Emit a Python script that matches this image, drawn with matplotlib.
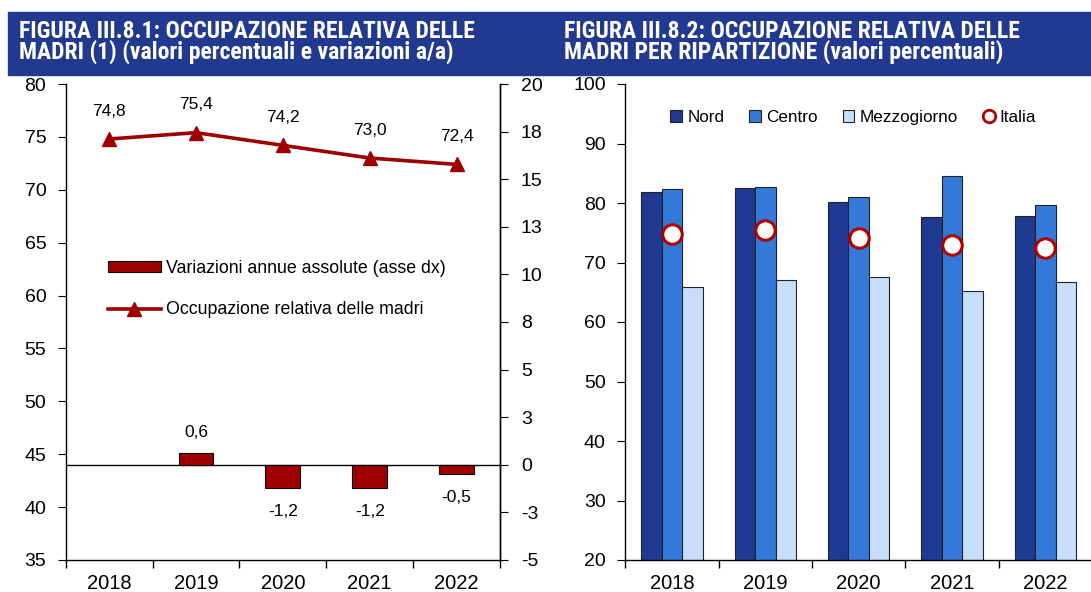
import numpy as np
import matplotlib
matplotlib.use("Agg")
import matplotlib.pyplot as plt
from matplotlib import font_manager
from matplotlib.patches import Rectangle, Patch
from matplotlib.lines import Line2D
from matplotlib.ticker import FixedLocator, FuncFormatter

years = ["2018", "2019", "2020", "2021", "2022"]

# figura III.8.1
occupazione = [74.8, 75.4, 74.2, 73.0, 72.4]
variazioni = [np.nan, 0.6, -1.2, -1.2, -0.5]

# figura III.8.2
nord = [81.9, 82.6, 80.2, 77.6, 77.8]
centro = [82.4, 82.7, 81.0, 84.5, 79.7]
mezzogiorno = [65.8, 67.1, 67.5, 65.2, 66.8]
italia = [74.8, 75.4, 74.2, 73.0, 72.4]

title_left = ["FIGURA III.8.1: OCCUPAZIONE RELATIVA DELLE",
              "MADRI (1) (valori percentuali e variazioni a/a)"]
title_right = ["FIGURA III.8.2: OCCUPAZIONE RELATIVA DELLE",
               "MADRI PER RIPARTIZIONE (valori percentuali)"]

RED = "#9E0000"
BAND = "#213A8F"
C_NORD, C_CENTRO, C_MEZZ = "#1F3A93", "#3479D9", "#C6DEF9"

installed = {f.name for f in font_manager.fontManager.ttflist}
body_font = "Liberation Sans" if "Liberation Sans" in installed else "DejaVu Sans"
title_font = body_font
for cand in ["Liberation Sans Narrow", "Roboto Condensed", "DejaVu Sans Condensed"]:
    if cand in installed:
        title_font = cand
        break

plt.rcParams["font.family"] = [body_font, "DejaVu Sans"]
plt.rcParams["axes.linewidth"] = 1.0

W, H = 1091, 592
fig = plt.figure(figsize=(W / 100, H / 100), dpi=100)


def it(v):
    return f"{v:.1f}".replace(".", ",")


def round_half(v, pos=None):
    return str(int(np.sign(v) * np.floor(abs(v) + 0.5)))


def cat_ticks(ax):
    x = np.arange(len(years))
    ax.set_xlim(-0.5, len(years) - 0.5)
    ax.xaxis.set_major_locator(FixedLocator(x))
    ax.set_xticklabels(years, fontsize=14.5)
    ax.xaxis.set_minor_locator(FixedLocator(np.arange(len(years) + 1) - 0.5))
    ax.tick_params(axis="x", which="major", length=0, pad=10)
    ax.tick_params(axis="x", which="minor", length=6, width=1, direction="out")


# ---- title band
fig.patches.append(Rectangle((7.6 / W, 1 - 74.7 / H), 1, (74.7 - 11.5) / H,
                             transform=fig.transFigure, color=BAND, zorder=0))
renderer = fig.canvas.get_renderer()
probe = fig.text(0, 0, title_left[0], fontsize=16, fontweight="bold", family=title_font)
w = probe.get_window_extent(renderer).width
probe.remove()
tsize = min(16 * 480 / w, 17)
lsp = 20 / (tsize * 100 / 72)
for x0, lines in [(19, title_left), (564, title_right)]:
    # baseline alignment of a two-line text refers to the last line
    fig.text(x0 / W, 1 - 59 / H, "\n".join(lines), color="white", fontsize=tsize,
             fontweight="bold", family=title_font, va="baseline", ha="left",
             linespacing=lsp)

# ---- left chart
x = np.arange(len(years))
ax1 = fig.add_axes([65.7 / W, 32 / H, 434.3 / W, 476 / H])
ax2 = ax1.twinx()

ax1.set_ylim(35, 80)
ax1.set_yticks(np.arange(35, 81, 5))
ax1.tick_params(axis="y", labelsize=14, length=6, pad=8)
ax1.spines["top"].set_visible(False)
cat_ticks(ax1)

ax2.set_ylim(-5, 20)
ax2.yaxis.set_major_locator(FixedLocator(np.arange(-5, 20.1, 2.5)))
ax2.yaxis.set_major_formatter(FuncFormatter(round_half))
ax2.tick_params(axis="y", labelsize=14, length=6, pad=9)
for s in ["top", "left", "bottom"]:
    ax2.spines[s].set_visible(False)

ax2.axhline(0, color="black", lw=1, zorder=1)
ax2.bar(x, variazioni, width=0.4, color=RED, edgecolor="black", lw=0.8, zorder=2)
for xi, v in zip(x, variazioni):
    if np.isnan(v):
        continue
    off = 15 if v > 0 else -17
    ax2.annotate(it(v), (xi, v), xytext=(0, off), textcoords="offset points",
                 ha="center", va="center", fontsize=12.5)

ax1.plot(x, occupazione, color=RED, lw=2.6, marker="^", ms=10, zorder=3)
for xi, v in zip(x, occupazione):
    ax1.annotate(it(v), (xi, v), xytext=(0, 20), textcoords="offset points",
                 ha="center", va="center", fontsize=12.5)

h_bar = Patch(facecolor=RED, edgecolor="black", lw=0.8)
h_line = Line2D([], [], color=RED, lw=2.6, marker="^", ms=10)
ax2.legend([h_bar, h_line],
           ["Variazioni annue assolute (asse dx)", "Occupazione relativa delle madri"],
           loc="center left", bbox_to_anchor=((107.7 - 65.7) / 434.3, (560 - 289) / 476),
           frameon=False, fontsize=12.8, borderaxespad=0, borderpad=0,
           handlelength=3.0, handleheight=0.55, handletextpad=0.3, labelspacing=1.4)

# ---- right chart
ax3 = fig.add_axes([625.3 / W, 32 / H, (W + 1 - 625.3) / W, 476 / H])
bw = 0.22
ax3.bar(x - bw, nord, width=bw, color=C_NORD, edgecolor="#222222", lw=0.8, label="Nord")
ax3.bar(x, centro, width=bw, color=C_CENTRO, edgecolor="#222222", lw=0.8, label="Centro")
ax3.bar(x + bw, mezzogiorno, width=bw, color=C_MEZZ, edgecolor="#222222", lw=0.8,
        label="Mezzogiorno")
ax3.plot(x, italia, ls="none", marker="o", ms=14, mfc="white", mec="#B00000", mew=2.2,
         label="Italia", zorder=4)
ax3.set_ylim(20, 100)
ax3.set_yticks(np.arange(20, 101, 10))
ax3.tick_params(axis="y", labelsize=14, length=6, pad=8)
ax3.spines["top"].set_visible(False)
ax3.spines["right"].set_visible(False)
cat_ticks(ax3)

handles = [Patch(facecolor=C_NORD, edgecolor="#222222", lw=0.8),
           Patch(facecolor=C_CENTRO, edgecolor="#222222", lw=0.8),
           Patch(facecolor=C_MEZZ, edgecolor="#222222", lw=0.8),
           Line2D([], [], ls="none", marker="o", ms=9, mfc="white", mec="#B00000", mew=2)]
ax3.legend(handles, ["Nord", "Centro", "Mezzogiorno", "Italia"], ncol=4,
           loc="center left", bbox_to_anchor=((670.3 - 625.3) / 466.7, (560 - 117.7) / 476),
           frameon=False, fontsize=12.3, borderaxespad=0, borderpad=0,
           handlelength=0.7, handleheight=0.7, handletextpad=0.3, columnspacing=1.45)

fig.savefig("out.png", dpi=100)
